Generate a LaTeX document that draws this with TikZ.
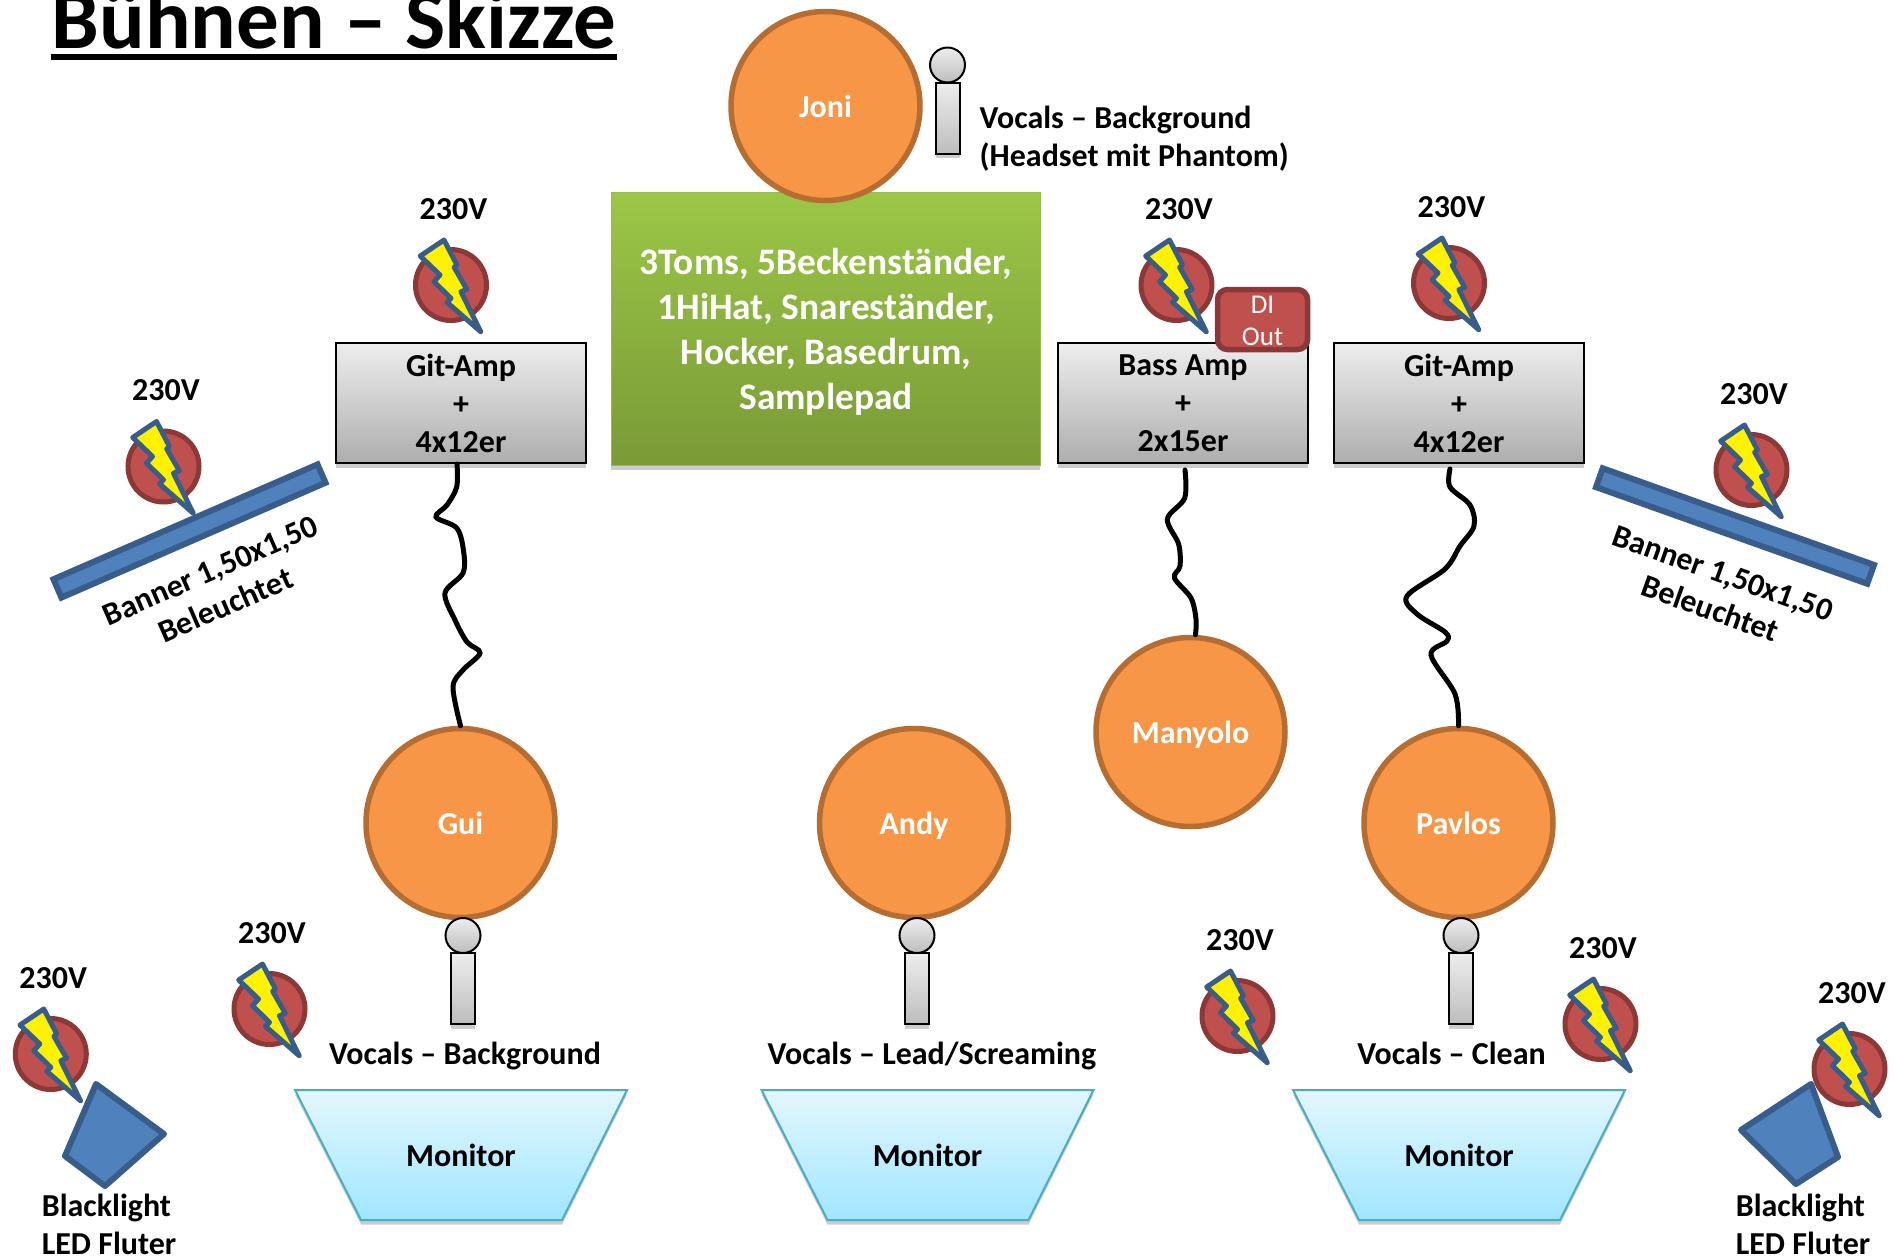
\documentclass[tikz,border=0pt]{standalone}
\usepackage{fontspec}
\setmainfont{Carlito}
\usetikzlibrary{shadows}

\definecolor{personfill}{HTML}{F79646}
\definecolor{persondraw}{HTML}{B66D31}
\definecolor{powerfill}{HTML}{C0504D}
\definecolor{powerdraw}{HTML}{8C3836}
\definecolor{bluefill}{HTML}{4F81BD}
\definecolor{bluedraw}{HTML}{385D8A}
\definecolor{monitordraw}{HTML}{4BACC6}
\definecolor{monitortop}{HTML}{E3F7FF}
\definecolor{monitorbottom}{HTML}{A0E6FF}
\definecolor{drumstop}{HTML}{9BC746}
\definecolor{drumsbottom}{HTML}{7A9A37}
\definecolor{drumsdraw}{HTML}{98B954}

\tikzset{
    label text/.style={font=\bfseries\fontsize{9.1}{10.8}\selectfont, inner sep=0},
    one line/.style={label text, text height=0.23cm, text depth=0cm},
    cast/.style={drop shadow={shadow xshift=0cm, shadow yshift=-0.045cm, opacity=0.2, fill=black}},
    person/.style={circle, draw=persondraw, fill=personfill, line width=0.055cm, minimum size=1.89cm, inner sep=0, text=white, one line},
    amp/.style={rectangle, draw=black, line width=0.02cm, top color=black!7, bottom color=black!32, minimum width=2.5cm, minimum height=1.2cm, inner sep=0, align=center, label text, cast},
    monitor/.style={draw=monitordraw, line width=0.02cm, top color=monitortop, bottom color=monitorbottom, cast},
    banner/.style={rectangle, draw=bluedraw, fill=bluefill, line width=0.06cm, minimum width=2.88cm, minimum height=0.2cm, inner sep=0},
    lamp/.style={draw=bluedraw, fill=bluefill, line width=0.06cm, line join=round},
    power/.style={draw=powerdraw, fill=powerfill, line width=0.05cm},
    bolt/.style={draw=bluedraw, fill=yellow, line width=0.05cm, line join=round},
    mic/.style={draw=black, line width=0.02cm, top color=black!7, bottom color=black!26},
    wire/.style={draw=black, line width=0.05cm, line cap=round},
}

\begin{document}
\begin{tikzpicture}
        \useasboundingbox (0, 0) rectangle (18.95, -12.58);
        \fill[white] (0, 0) rectangle (18.95, -12.58);

        \node[anchor=base west, inner sep=0, font=\bfseries\fontsize{24.2}{27}\selectfont] (title) at (0.51, -0.48) {Bühnen – Skizze};
        \draw[line width=0.06cm] ([yshift=-0.09cm]title.base west) -- ([yshift=-0.09cm]title.base east);

        \foreach \name/\x/\y in {a/4.51/-2.85, b/1.635/-4.665, c/2.695/-10.09, d/0.508/-10.54, e/11.765/-2.85, f/14.49/-2.83, g/17.515/-4.70, h/12.375/-10.16, i/16.005/-10.24, j/18.495/-10.69} {
            \begin{scope}[shift={(\x, \y)}]
                \draw[power] (0, 0) circle (0.355);
                \draw[bolt] (-0.07, 0.45) -- (-0.308, 0.29) -- (-0.11, 0.10) -- (-0.17, 0.033) -- (0, -0.133) -- (-0.04, -0.173) -- (0.297, -0.467) -- (0.10, -0.067) -- (0.158, -0.043) -- (0.032, 0.177) -- (0.06, 0.20) -- cycle;
                \node[label text] (volt \name) at (0.024, 0.76) {230V};
            \end{scope}
        }

        \node[rectangle, cast, draw=drumsdraw, line width=0.01cm, top color=drumstop, bottom color=drumsbottom, minimum width=4.29cm, minimum height=2.73cm, inner sep=0] (drums) at (8.255, -3.285) {};
        \node[inner sep=0, text=white, align=center, font=\bfseries\fontsize{10.64}{12.85}\selectfont] (drums text) at (8.26, -3.32) {3Toms, 5Beckenständer,\\1HiHat, Snareständer,\\Hocker, Basedrum,\\Samplepad};

        \node[person] (joni) at (8.255, -1.06) {Joni};
        \node[person] (gui) at (4.605, -8.23) {Gui};
        \node[person] (andy) at (9.14, -8.23) {Andy};
        \node[person] (manyolo) at (11.905, -7.32) {Manyolo};
        \node[person] (pavlos) at (14.585, -8.23) {Pavlos};

        \foreach \x/\y in {9.475/-0.65, 4.63/-9.355, 9.17/-9.355, 14.61/-9.355} {
            \begin{scope}[shift={(\x, \y)}]
                \draw[mic, cast] (-0.12, -0.175) rectangle (0.12, -0.885);
                \draw[mic] (0, 0) circle (0.175);
            \end{scope}
        }

        \node[amp] (amp gui) at (4.61, -4.03) {Git-Amp\\+\\4x12er};
        \node[amp] (amp manyolo) at (11.83, -4.03) {Bass Amp\\+\\2x15er};
        \node[amp] (amp pavlos) at (14.59, -4.03) {Git-Amp\\+\\4x12er};

        \node[rectangle, rounded corners=0.1cm, draw=powerdraw, fill=powerfill, line width=0.055cm, minimum width=0.9cm, minimum height=0.6cm, inner sep=0] (di out) at (12.625, -3.195) {};
        \node[inner sep=0, text=white, align=center, font=\fontsize{7.7}{9.3}\selectfont] (di out text) at (12.625, -3.21) {DI\\Out};

        \draw[wire] plot[smooth, tension=0.55] coordinates {([xshift=-0.04cm]amp gui.south) (4.567, -4.87) (4.47, -5.05) (4.36, -5.17) (4.567, -5.28) (4.634, -5.50) (4.63, -5.73) (4.45, -5.93) (4.55, -6.20) (4.67, -6.42) (4.80, -6.53) (4.63, -6.70) (4.53, -6.87) (gui.north)};
        \draw[wire] plot[smooth, tension=0.55] coordinates {([xshift=0.02cm, yshift=-0.06cm]amp manyolo.south) (11.847, -4.98) (11.674, -5.19) (11.786, -5.44) (11.80, -5.66) (11.745, -5.78) (11.91, -5.98) (11.96, -6.19) ([xshift=0.05cm]manyolo.north)};
        \draw[wire] plot[smooth, tension=0.55] coordinates {([xshift=-0.09cm, yshift=-0.05cm]amp pavlos.south) (14.50, -4.87) (14.70, -5.05) (14.74, -5.26) (14.60, -5.46) (14.45, -5.69) (14.07, -5.96) (14.17, -6.14) (14.45, -6.32) (14.47, -6.41) (14.31, -6.55) (14.55, -6.94) (pavlos.north)};

        \node[banner, rotate=23.5] (banner left) at (1.895, -5.31) {};
        \node[label text, rotate=23.5, align=center] (banner left text) at (2.18, -5.88) {Banner 1,50x1,50\\Beleuchtet};
        \node[banner, rotate=-19.6] (banner right) at (17.35, -5.26) {};
        \node[label text, rotate=-19.6, align=center] (banner right text) at (17.165, -5.91) {Banner 1,50x1,50\\Beleuchtet};

        \draw[lamp] (0.96, -10.84) -- (1.64, -11.34) -- (1.05, -11.86) -- (0.65, -11.56) -- cycle;
        \draw[lamp] (18.11, -10.84) -- (18.38, -11.57) -- (17.96, -11.84) -- (17.41, -11.30) -- cycle;
        \node[label text, align=left] (lamp left text) at (1.09, -12.245) {Blacklight\\LED Fluter};
        \node[label text, align=left] (lamp right text) at (18.03, -12.245) {Blacklight\\LED Fluter};

        \node[label text, align=left, anchor=west] (vocals joni) at (9.79, -1.385) {Vocals – Background\\(Headset mit Phantom)};
        \node[one line] (vocals gui) at (4.65, -10.53) {Vocals – Background};
        \node[one line] (vocals andy) at (9.32, -10.53) {Vocals – Lead/Screaming};
        \node[one line] (vocals pavlos) at (14.515, -10.53) {Vocals – Clean};

        \foreach \name/\x in {gui/4.61, andy/9.275, pavlos/14.59} {
            \begin{scope}[shift={(\x, -11.55)}]
                \draw[monitor] (-1.66, 0.65) -- (1.66, 0.65) -- (1.01, -0.65) -- (-1.0, -0.65) -- cycle;
                \node[label text] (monitor \name) at (0, 0) {Monitor};
            \end{scope}
        }
    \end{tikzpicture}
\end{document}
